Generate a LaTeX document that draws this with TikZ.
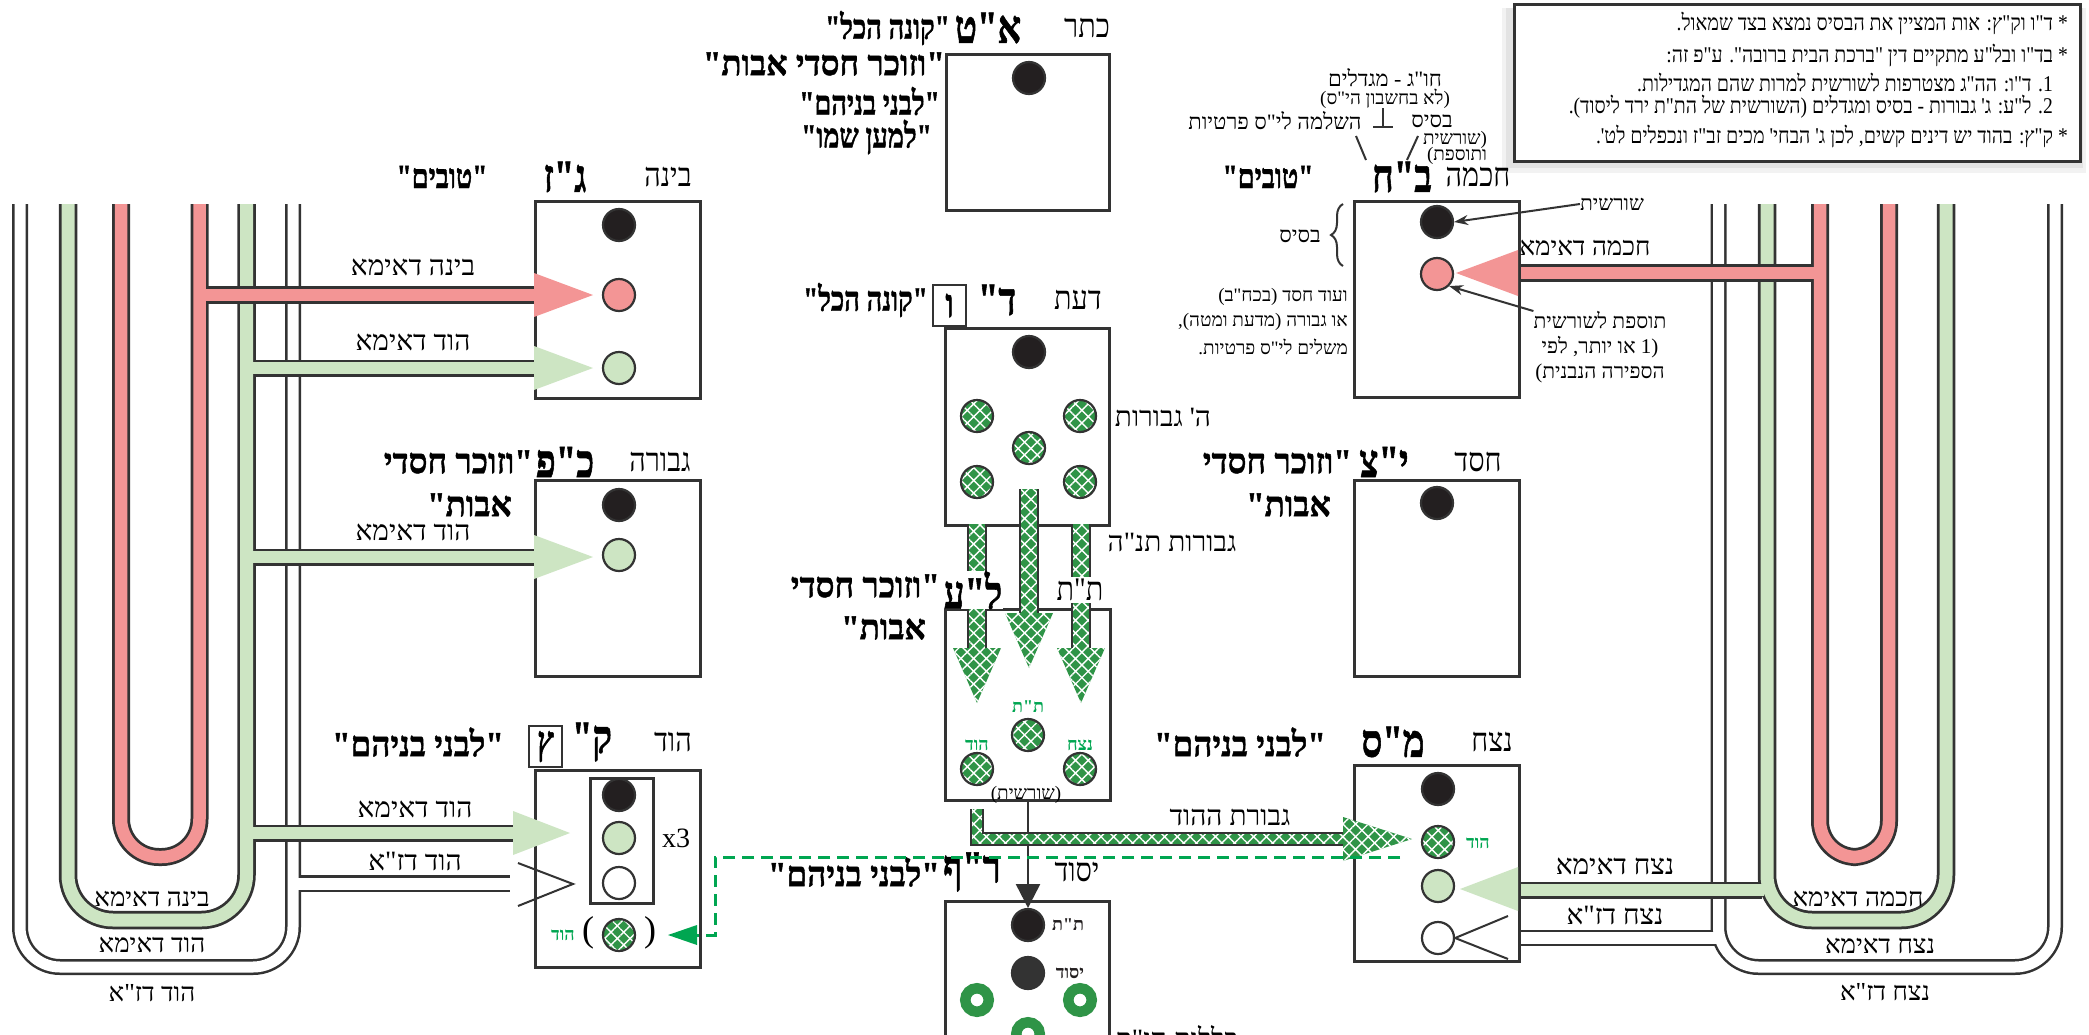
\documentclass[tikz,border=0pt]{standalone}
\usepackage{fontspec}
\usetikzlibrary{patterns.meta,arrows.meta,decorations.pathreplacing}
\TeXXeTstate=1
\newfontfamily\heb[Script=Hebrew]{Liberation Serif}
\newfontfamily\lat{Liberation Serif}
\newfontfamily\hebn[Script=Hebrew,FakeStretch=0.87]{Liberation Serif}
\newfontfamily\hebq[Script=Hebrew,FakeStretch=0.8,BoldFeatures={FakeBold=1.2}]{Liberation Serif}
\newfontfamily\hebw[Script=Hebrew,FakeStretch=0.95,BoldFeatures={FakeBold=1.2}]{Liberation Serif}
\newcommand\RR[1]{\beginR #1\endR}
\definecolor{pinkc}{HTML}{F39595}
\definecolor{lgreen}{HTML}{CDE5C3}
\definecolor{hgreen}{HTML}{2F9447}
\definecolor{tgreen}{HTML}{00A651}
\definecolor{dk}{HTML}{231F20}
\definecolor{bord}{HTML}{333333}
\tikzset{
 sbox/.style={draw=bord, line width=3, fill=white, inner sep=0, anchor=north west},
 cdot/.style={circle, draw=bord, line width=2.2, minimum size=32, inner sep=0},
 cblk/.style={cdot, fill=dk},
 cpnk/.style={cdot, fill=pinkc},
 clgr/.style={cdot, fill=lgreen},
 cwht/.style={cdot, fill=white},
 hatchfill/.style={preaction={fill=hgreen}, pattern={Hatch[angle=45,distance=9pt,line width=1.4pt]}, pattern color=white},
 chat/.style={cdot, hatchfill},
 cring/.style={circle, draw=hgreen, line width=10.5, minimum size=23.5, inner sep=0},
 ttl/.style={font=\hebn\fontsize{33}{35}\selectfont, inner sep=0},
 bigb/.style={font=\hebq\bfseries\fontsize{46}{48}\selectfont, inner sep=0},
 qtb/.style={font=\hebw\bfseries\fontsize{35}{38}\selectfont, inner sep=0},
 qtn/.style={font=\hebq\bfseries\fontsize{34}{37}\selectfont, inner sep=0},
 lbl/.style={font=\heb\fontsize{28}{30}\selectfont, inner sep=0},
 lblr/.style={font=\heb\fontsize{26}{28}\selectfont, inner sep=0},
 lblp/.style={font=\heb\fontsize{26}{28}\selectfont, inner sep=0},
 lbla/.style={font=\heb\fontsize{22}{24}\selectfont, inner sep=0},
 sml/.style={font=\heb\fontsize{19}{21}\selectfont, inner sep=0},
 smm/.style={font=\heb\fontsize{21}{23}\selectfont, inner sep=0},
 notet/.style={font=\hebn\fontsize{22.5}{24}\selectfont, inner sep=0, anchor=east},
 grl/.style={font=\heb\bfseries\fontsize{18}{19}\selectfont, text=tgreen, inner sep=0},
 blkl/.style={font=\heb\bfseries\fontsize{18}{19}\selectfont, text=dk, inner sep=0},
 lbox/.style={draw=bord, line width=2.5, minimum width=33, minimum height=41, inner sep=0, font=\hebq\bfseries\fontsize{40}{40}\selectfont},
 edge/.style={draw=bord, line width=2.5},
 parn/.style={font=\lat\fontsize{36}{36}\selectfont, inner sep=0},
}
\begin{document}
\begin{tikzpicture}[x=1pt,y=-1pt]
\useasboundingbox (0,0) rectangle (2089,1034);
\fill[white] (0,0) rectangle (2089,1034);
\begin{scope}
\clip (0,0) rectangle (2089,1034);

% ================= LEFT PIPES =================
\draw[bord, line width=16, rounded corners=40] (20,204) -- (20,967) -- (293,967) -- (293,204);
\draw[bord, line width=16.5] (293,883.5) -- (510,883.5);
\draw[white, line width=11, rounded corners=40] (20,204) -- (20,967) -- (293,967) -- (293,204);
\draw[white, line width=12] (289,883.5) -- (510,883.5);
\draw[bord, line width=18.5, rounded corners=45] (68,204) -- (68,920) -- (246.5,920) -- (246.5,204);
\draw[lgreen, line width=13, rounded corners=45] (68,204) -- (68,920) -- (246.5,920) -- (246.5,204);
\draw[bord, line width=18, rounded corners=38] (121,204) -- (121,857) -- (199.5,857) -- (199.5,204);
\draw[pinkc, line width=12.5, rounded corners=38] (121,204) -- (121,857) -- (199.5,857) -- (199.5,204);
\foreach \yy/\xe in {368/534,557/534,833/513}{
 \draw[bord, line width=17] (254,\yy) -- (\xe,\yy);
 \draw[lgreen, line width=12] (250,\yy) -- (\xe,\yy);
}
\draw[bord, line width=18] (207,295) -- (534,295);
\draw[pinkc, line width=12.5] (203,295) -- (534,295);

% ================= RIGHT PIPES =================
\draw[bord, line width=16, rounded corners=40] (1718.5,204) -- (1718.5,967) -- (2055,967) -- (2055,204);
\draw[bord, line width=16.5] (1718.5,938) -- (1518,938);
\draw[white, line width=11, rounded corners=40] (1718.5,204) -- (1718.5,967) -- (2055,967) -- (2055,204);
\draw[white, line width=12] (1723,938) -- (1518,938);
\draw[bord, line width=18.5, rounded corners=45] (1767,204) -- (1767,920) -- (1946,920) -- (1946,204);
\draw[bord, line width=17] (1762,890) -- (1518,890);
\draw[lgreen, line width=13, rounded corners=45] (1767,204) -- (1767,920) -- (1946,920) -- (1946,204);
\draw[lgreen, line width=12] (1764,890) -- (1518,890);
\draw[bord, line width=18, rounded corners=36] (1820,204) -- (1820,857) -- (1889,857) -- (1889,204);
\draw[pinkc, line width=12.5, rounded corners=36] (1820,204) -- (1820,857) -- (1889,857) -- (1889,204);
\draw[bord, line width=18] (1812,273) -- (1518,273);
\draw[pinkc, line width=12.5] (1816,273) -- (1518,273);

\node[lblp] (lb1) at (152,899) {\RR{בינה דאימא}};
\node[lblp] (lb2) at (152,945) {\RR{הוד דאימא}};
\node[lblp] (lb3) at (152,993) {\RR{הוד דז"א}};
\node[lblp] (rb1) at (1858,899) {\RR{חכמה דאימא}};
\node[lblp] (rb2) at (1880,946) {\RR{נצח דאימא}};
\node[lblp] (rb3) at (1885,992) {\RR{נצח דז"א}};

% ================= NOTE BOX =================
\fill[black!5] (1502,8) rectangle (2086,173);
\fill[black!11] (1506,8) rectangle (2083,168);
\node[sbox, line width=2.5, minimum width=566, minimum height=157] (notebox) at (1513,3) {};
\node[notet] (n1) at (2068,24) {\RR{* ד"ו וק"ץ: אות המציין את הבסיס נמצא בצד שמאול.}};
\node[notet] (n2) at (2068,56) {\RR{* בד"ו ובל"ע מתקיים דין "ברכת הבית ברובה". ע"פ זה:}};
\node[notet] (n3) at (2053,82) {\RR{1. ד"ו: הה"ג מצטרפות לשורשית למרות שהם המגדילות.}};
\node[notet] (n4) at (2053,107) {\RR{2. ל"ע: ג' גבורות - בסיס ומגדלים (השורשית של הת"ת ירד ליסוד).}};
\node[notet] (n5) at (2068,137) {\RR{* ק"ץ: בהוד יש דינים קשים, לכן ג' הבחי' מכים זב"ז ונכפלים לט'.}};

% ================= KETER =================
\node[ttl] (keT) at (1087,28) {\RR{כתר}};
\node[bigb] (keB) at (988,28) {\RR{א"ט}};
\node[qtn, anchor=east] (keQ1) at (950,28) {\RR{"קונה הכל"}};
\node[qtb, anchor=east] (keQ2) at (945,64) {\RR{"וזוכר חסדי אבות"}};
\node[qtn, anchor=east] (keQ3) at (940,101) {\RR{"לבני בניהם"}};
\node[qtn, anchor=east] (keQ4) at (932,137) {\RR{"למען שמו"}};
\node[sbox, minimum width=163, minimum height=156] (kebox) at (945,53) {};
\node[cblk] (kec) at (1029,78) {};

% ================= CHOCHMA =================
\node[lbla] (hug) at (1385,78) {\RR{חו"ג - מגדלים}};
\node[sml] (hugb) at (1385,99) {\RR{(לא בחשבון הי"ס)}};
\node[lbla] (bas) at (1432,121) {\RR{בסיס}};
\node[lbla] (hash) at (1275,121) {\RR{השלמה לי"ס פרטיות}};
\node[sml] (sho1) at (1455,140) {\RR{(שורשית}};
\node[sml] (sho2) at (1457,156) {\RR{ותוספת)}};
\draw[bord, line width=2] (1356,136) -- (1366,160);
\draw[bord, line width=2] (1418,136) -- (1407,160);
\draw[bord, line width=2] (1383,108) -- (1383,127) (1373,127) -- (1393,127);
\node[ttl] (chT) at (1478,177) {\RR{חכמה}};
\node[bigb] (chB) at (1402,177) {\RR{ב"ח}};
\node[qtn] (chQ) at (1268,177) {\RR{"טובים"}};
\node[sbox, minimum width=165, minimum height=196] (chbox) at (1353,200) {};
\node[cblk] (chc1) at (1437,222) {};
\node[cpnk] (chc2) at (1437,274) {};
\fill[pinkc] (1518,250) -- (1456,273) -- (1518,296) -- cycle;
\node[lblr] (chdl) at (1585,248) {\RR{חכמה דאימא}};
\draw[decorate, decoration={brace, amplitude=12}, line width=2, bord] (1343,266) -- (1343,204);
\node[lbla] (chbas) at (1300,236) {\RR{בסיס}};
\node[sml, anchor=east] (chx1) at (1348,297) {\RR{ועוד חסד (בכח"ב)}};
\node[sml, anchor=east] (chx2) at (1348,322) {\RR{או גבורה (מדעת ומטה),}};
\node[sml, anchor=east] (chx3) at (1348,347) {\RR{משלים לי"ס פרטיות.}};
\node[smm] (chsh) at (1612,204) {\RR{שורשית}};
\draw[bord, line width=2, -{Stealth[length=14,width=10]}] (chsh.west) -- (chc1.east);
\node[smm] (chy1) at (1600,320) {\RR{תוספת לשורשית}};
\node[smm] (chy2) at (1600,347) {\RR{(1 או יותר, לפי}};
\node[smm] (chy3) at (1600,373) {\RR{הספירה הנבנית)}};
\draw[bord, line width=2, -{Stealth[length=14,width=10]}] (chy1.north west) -- (chc2.south east);

% ================= BINAH =================
\node[ttl] (biT) at (668,177) {\RR{בינה}};
\node[bigb] (biB) at (565,177) {\RR{ג"ז}};
\node[qtn] (biQ) at (442,177) {\RR{"טובים"}};
\node[sbox, minimum width=165, minimum height=197] (bibox) at (534,200) {};
\node[cblk] (bic1) at (619,225) {};
\node[cpnk] (bic2) at (619,295) {};
\node[clgr] (bic3) at (619,368) {};
\fill[pinkc] (534,273) -- (593,295) -- (534,317) -- cycle;
\fill[lgreen] (534,346) -- (593,368) -- (534,390) -- cycle;
\node[lbl] (bil1) at (413,267) {\RR{בינה דאימא}};
\node[lbl] (bil2) at (413,342) {\RR{הוד דאימא}};

% ================= GEVURAH =================
\node[ttl] (geT) at (660,462) {\RR{גבורה}};
\node[bigb] (geB) at (565,462) {\RR{כ"פ}};
\node[qtb, anchor=east] (geQ1) at (533,462) {\RR{"וזוכר חסדי}};
\node[qtb, anchor=east] (geQ2) at (512,505) {\RR{אבות"}};
\node[sbox, minimum width=165, minimum height=196] (gebox) at (534,479) {};
\node[cblk] (gec1) at (619,505) {};
\node[clgr] (gec2) at (619,555) {};
\fill[lgreen] (534,535) -- (593,557) -- (534,579) -- cycle;
\node[lbl] (gel) at (413,532) {\RR{הוד דאימא}};

% ================= CHESED =================
\node[ttl] (heT) at (1478,462) {\RR{חסד}};
\node[bigb] (heB) at (1384,462) {\RR{י"צ}};
\node[qtb, anchor=east] (heQ1) at (1352,462) {\RR{"וזוכר חסדי}};
\node[qtb, anchor=east] (heQ2) at (1331,505) {\RR{אבות"}};
\node[sbox, minimum width=165, minimum height=196] (hebox) at (1353,479) {};
\node[cblk] (hec) at (1437,503) {};

% ================= DAAT =================
\node[ttl] (daT) at (1078,300) {\RR{דעת}};
\node[bigb] (daB) at (997,300) {\RR{ד"}};
\node[lbox] (daV) at (949.5,305.5) {\RR{ו}};
\node[qtn, anchor=east] (daQ) at (928,300) {\RR{"קונה הכל"}};
\node[sbox, minimum width=164, minimum height=197] (dabox) at (944,327) {};
\node[cblk] (dac0) at (1029,352) {};
\node[chat] (dac1) at (977,416) {};
\node[chat] (dac2) at (1080,416) {};
\node[chat] (dac3) at (1029,448) {};
\node[chat] (dac4) at (977,482) {};
\node[chat] (dac5) at (1080,482) {};
\node[lbl] (dal1) at (1163,417) {\RR{ה' גבורות}};
\node[lbl] (dal2) at (1172,542) {\RR{גבורות תנ"ה}};

% ================= TIFERET =================
\node[sbox, minimum width=165, minimum height=191] (tfbox) at (944,608) {};
\foreach \xa/\xb in {968/986, 1072/1090}{
 \fill[hatchfill] (\xa,524) rectangle (\xb,648);
 \draw[edge] (\xa,524) -- (\xa,648) (\xb,524) -- (\xb,648);
 \fill[hatchfill] ({(\xa+\xb)/2-24},648) -- ({(\xa+\xb)/2+24},648) -- ({(\xa+\xb)/2},703) -- cycle;
}
\node[ttl, fill=white, inner sep=2] (tfT) at (1080,590) {\RR{ת"ת}};
\node[bigb, fill=white, inner xsep=1, inner ysep=0] (tfB) at (973,590) {\RR{ל"ע}};
\node[qtb, anchor=east] (tfQ1) at (940,586) {\RR{"וזוכר חסדי}};
\node[qtb, anchor=east] (tfQ2) at (926,628) {\RR{אבות"}};
\fill[hatchfill] (1020,489) rectangle (1038,613);
\draw[edge] (1020,489) -- (1020,613) (1038,489) -- (1038,613);
\fill[hatchfill] (1005,613) -- (1053,613) -- (1029,668) -- cycle;
\node[grl] (tfl1) at (1028,707) {\RR{ת"ת}};
\node[chat] (tfc1) at (1028,735) {};
\node[grl] (tfl2) at (977,745) {\RR{הוד}};
\node[chat] (tfc2) at (977,769) {};
\node[grl] (tfl3) at (1080,745) {\RR{נצח}};
\node[chat] (tfc3) at (1080,769) {};
\node[sml] (tfsh) at (1026,795) {\RR{(שורשית)}};

% ================= YESOD =================
\node[ttl] (ysT) at (1077,872) {\RR{יסוד}};
\node[bigb] (ysB) at (972,872) {\RR{ר"ף}};
\node[qtb, anchor=east] (ysQ) at (940,872) {\RR{"לבני בניהם"}};
\node[sbox, minimum width=164, minimum height=150] (ysbox) at (944,900) {};
\node[cblk] (ysc1) at (1028,925) {};
\node[blkl] (ysl1) at (1068,925) {\RR{ת"ת}};
\node[cdot, fill=bord] (ysc2) at (1028,973) {};
\node[blkl] (ysl2) at (1070,973) {\RR{יסוד}};
\node[cring] (ysr1) at (977,1000) {};
\node[cring] (ysr2) at (1080,1000) {};
\node[cring] (ysr3) at (1028,1034) {};
\node[lbl] (ysk) at (1177,1037) {\RR{כללות הי"ס}};
\coordinate (ystop) at (1028,908);
\draw[bord, line width=2.5, -{Triangle[length=24,width=24]}] (tfbox.south) -- (ystop);

% ================= HOD =================
\node[ttl] (hoT) at (673,742) {\RR{הוד}};
\node[bigb] (hoB) at (592,742) {\RR{ק"}};
\node[lbox] (hoZ) at (545.5,746.5) {\RR{ץ}};
\node[qtb] (hoQ) at (418,742) {\RR{"לבני בניהם"}};
\node[sbox, minimum width=165, minimum height=197] (hobox) at (534,769) {};
\node[draw=bord, line width=2.5, minimum width=63, minimum height=125, inner sep=0, anchor=north west] (hoin) at (589,777) {};
\node[cblk] (hoc1) at (619,795) {};
\node[clgr] (hoc2) at (619,838) {};
\node[cwht] (hoc3) at (619,883) {};
\node[font=\lat\fontsize{28}{28}\selectfont, inner sep=0] (hox) at (676,838) {x3};
\fill[lgreen] (513,811) -- (570,833) -- (513,855) -- cycle;
\draw[bord, line width=2] (518,863) -- (573,884) -- (518,906);
\node[lbl] (hol1) at (415,809) {\RR{הוד דאימא}};
\node[lbl] (hol2) at (415,862) {\RR{הוד דז"א}};
\node[grl] (hogl) at (563,935) {\RR{הוד}};
\node[parn] (hop1) at (588,933) {(};
\node[chat] (hoc4) at (619,935) {};
\node[parn] (hop2) at (650,933) {)};

% ================= NETZACH =================
\node[ttl] (neT) at (1492,742) {\RR{נצח}};
\node[bigb] (neB) at (1393,742) {\RR{מ"ס}};
\node[qtb] (neQ) at (1240,742) {\RR{"לבני בניהם"}};
\node[sbox, minimum width=165, minimum height=196] (nebox) at (1353,764) {};
\node[cblk] (nec1) at (1438,789) {};
\node[chat] (nec2) at (1438,842) {};
\node[grl] (negl) at (1478,843) {\RR{הוד}};
\node[clgr] (nec3) at (1438,886) {};
\node[cwht] (nec4) at (1438,938) {};
\fill[lgreen] (1518,867) -- (1460,889) -- (1518,911) -- cycle;
\draw[bord, line width=2] (1508,916) -- (nec4.east) -- (1508,959);
\node[lbl] (nel1) at (1615,866) {\RR{נצח דאימא}};
\node[lbl] (nel2) at (1615,916) {\RR{נצח דז"א}};

% ================= GEVURAT HAHOD tube =================
\fill[hatchfill] (971,809) rectangle (983,845);
\fill[hatchfill] (971,833) rectangle (1345,845);
\draw[edge] (971,809) -- (971,845) -- (1343,845) (983,809) -- (983,833) -- (1343,833);
\fill[hatchfill] (1343,817) -- (1412,839) -- (1343,861) -- cycle;
\node[lbl] (ghl) at (1230,817) {\RR{גבורת ההוד}};

\coordinate (dsA) at (1400,857);
\coordinate (dsB) at (715,857);
\coordinate (dsC) at (715,935);
\coordinate (dsD) at (697,935);
\draw[tgreen, line width=3, dash pattern=on 12pt off 7pt] (dsA) -- (dsB) -- (dsC) -- (dsD);
\fill[tgreen] (697,925) -- (668,935) -- (697,945) -- cycle;

\end{scope}
\end{tikzpicture}
\end{document}
